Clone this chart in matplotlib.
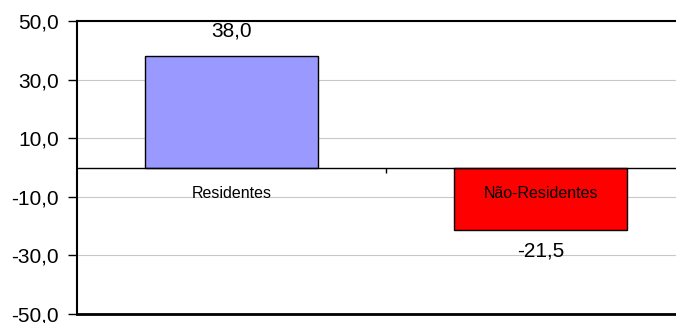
import matplotlib
matplotlib.use("Agg")
import matplotlib.pyplot as plt
from matplotlib.ticker import FuncFormatter

categories = ["Residentes", "Não-Residentes"]
values = [38.0, -21.5]
colors = ["#9999FF", "#FF0000"]
yticks = [-50, -30, -10, 10, 30, 50]

plt.rcParams["font.family"] = ["Liberation Sans", "DejaVu Sans"]

fig = plt.figure(figsize=(6.76, 3.23), dpi=100)
# plot area runs past the right edge of the canvas
ax = fig.add_axes([77 / 676, 1 - 314 / 323, 618 / 676, 293 / 323])

x = list(range(len(categories)))
bars = ax.bar(x, values, width=0.56, color=colors, edgecolor="black",
              linewidth=1.0, zorder=3)

ax.set_xlim(-0.5, 1.5)
ax.set_ylim(-50, 50)
ax.set_yticks(yticks)
ax.yaxis.set_major_formatter(FuncFormatter(lambda v, p: f"{v:.1f}".replace(".", ",")))
ax.tick_params(axis="y", direction="out", length=6.5, width=1, labelsize=15, pad=6.5)
ax.yaxis.grid(True, color="#c8c8c8", linewidth=0.8, zorder=0)

# category axis sits on the zero line
ax.spines["bottom"].set_position(("data", 0))
ax.spines["bottom"].set_linewidth(1.0)
ax.spines["bottom"].set_zorder(4)
ax.set_xticks([0.5])
ax.set_xticklabels([])
ax.tick_params(axis="x", direction="out", length=3.5, width=1)
ax.spines["left"].set_linewidth(1.5)
ax.spines["top"].set_linewidth(1.5)
ax.spines["right"].set_visible(False)
ax.axhline(-50, color="black", linewidth=2.0, clip_on=False, zorder=5)

for xi, name in zip(x, categories):
    ax.annotate(name, (xi, 0), xytext=(0, -18.4), textcoords="offset points",
                ha="center", va="center", fontsize=11.5, zorder=6)

for xi, v in zip(x, values):
    off = 17.8 if v >= 0 else -14.8
    ax.annotate(f"{v:.1f}".replace(".", ","), (xi, v), xytext=(0, off),
                textcoords="offset points", ha="center", va="center",
                fontsize=15, zorder=6)

fig.savefig("out.png", dpi=100)
